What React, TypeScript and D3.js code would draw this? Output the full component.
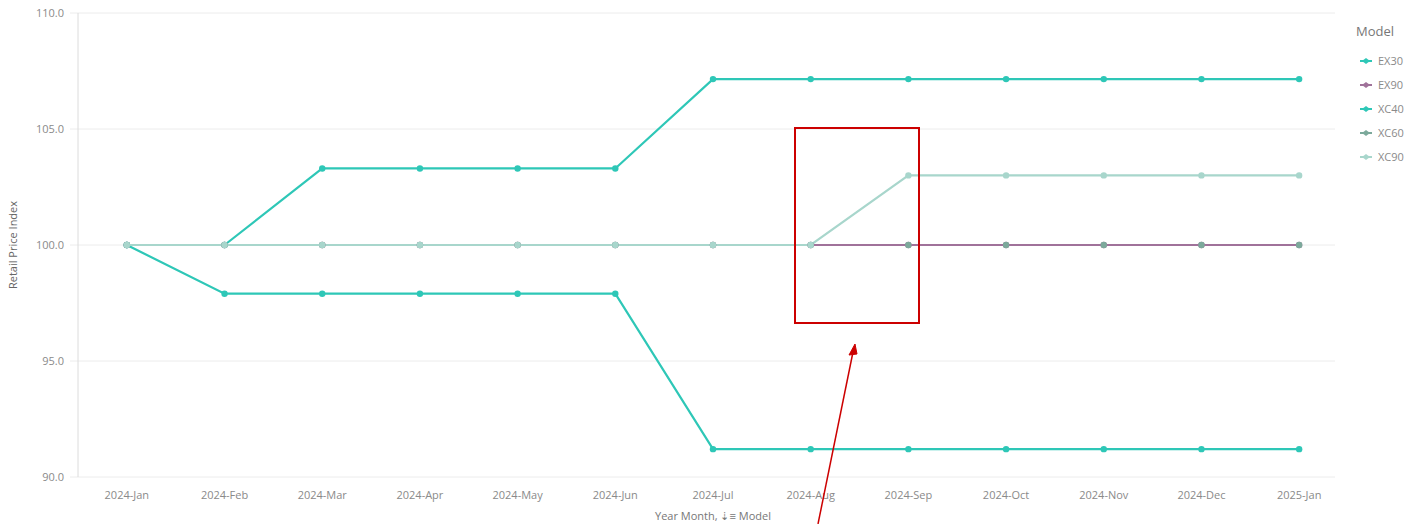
import React from 'react';
import * as d3 from 'd3';

const months = ['2024-Jan', '2024-Feb', '2024-Mar', '2024-Apr', '2024-May', '2024-Jun', '2024-Jul', '2024-Aug', '2024-Sep', '2024-Oct', '2024-Nov', '2024-Dec', '2025-Jan'];
const ex30 = [100, 100, 103.3, 103.3, 103.3, 103.3, 107.15, 107.15, 107.15, 107.15, 107.15, 107.15, 107.15];
const ex90 = [100, 100, 100, 100, 100, 100, 100, 100, 100, 100, 100, 100, 100];
const xc40 = [100, 97.9, 97.9, 97.9, 97.9, 97.9, 91.2, 91.2, 91.2, 91.2, 91.2, 91.2, 91.2];
const xc60 = [100, 100, 100, 100, 100, 100, 100, 100, 100, 100, 100, 100, 100];
const xc90 = [100, 100, 100, 100, 100, 100, 100, 100, 103.0, 103.0, 103.0, 103.0, 103.0];
const yTicks = [90, 95, 100, 105, 110];

const series = [
  { name: 'EX30', values: ex30, color: '#2ec7b7' },
  { name: 'EX90', values: ex90, color: '#a0729a' },
  { name: 'XC40', values: xc40, color: '#2ec7b7' },
  { name: 'XC60', values: xc60, color: '#7ca99b' },
  { name: 'XC90', values: xc90, color: '#a8d6cc' },
];
const lineOrder = ['EX30', 'XC40', 'XC60', 'EX90', 'XC90'];
const dotOrder = ['EX30', 'XC40', 'EX90', 'XC60', 'XC90'];

const font = 'Open Sans, sans-serif';

export default function App() {
  const left = 78, right = 1348, top = 13, bottom = 477;
  const x = d3.scaleBand<string>().domain(months).range([left, right]);
  const cx = (m: string) => (x(m) as number) + x.bandwidth() / 2;
  const y = d3.scaleLinear().domain([90, 110]).range([bottom, top]);
  const line = d3.line<number>().x((_, i) => cx(months[i])).y(d => y(d));
  const byName = (n: string) => series.find(s => s.name === n)!;

  return (
    <svg width={1421} height={524} style={{ position: 'absolute', left: 0, top: 0, background: '#fff' }} fontFamily={font}>
      {/* grid */}
      {yTicks.map(t => (
        <g key={t}>
          <line x1={70} x2={1335} y1={y(t)} y2={y(t)} stroke="#ececec" strokeWidth={1} />
          <text x={64} y={y(t) + 4} textAnchor="end" fontSize={11} fill="#8a8a8a">{t.toFixed(1)}</text>
        </g>
      ))}
      <line x1={left} x2={left} y1={top} y2={bottom} stroke="#dcdcdc" />
      <text transform={`translate(17,${(top + bottom) / 2}) rotate(-90)`} textAnchor="middle" fontSize={11} fill="#666">Retail Price Index</text>
      {months.map(m => (
        <text key={m} x={cx(m)} y={499} textAnchor="middle" fontSize={11} fill="#8a8a8a">{m}</text>
      ))}
      <text x={713} y={520} textAnchor="middle" fontSize={11} fill="#777">Year Month, ⇣≡ Model</text>

      {lineOrder.map(n => {
        const s = byName(n);
        return <path key={n} d={line(s.values) as string} fill="none" stroke={s.color} strokeWidth={2.2} />;
      })}
      {dotOrder.map(n => {
        const s = byName(n);
        return (
          <g key={n}>
            {s.values.map((v, i) => (
              <circle key={i} cx={cx(months[i])} cy={y(v)} r={3.2} fill={s.color} />
            ))}
          </g>
        );
      })}

      {/* legend */}
      <text x={1356} y={36} fontSize={13} fill="#777">Model</text>
      {series.map((s, i) => (
        <g key={s.name} transform={`translate(1366,${61 + i * 24})`}>
          <line x1={-6} x2={6} y1={0} y2={0} stroke={s.color} strokeWidth={2} />
          <path d="M-4,0 L0,-3 L4,0 L0,3 Z" fill={s.color} />
          <text x={12} y={4} fontSize={11} fill="#8a8a8a">{s.name}</text>
        </g>
      ))}

      {/* annotation */}
      <rect x={795} y={128} width={124} height={195} fill="none" stroke="#cc0000" strokeWidth={2} />
      <line x1={818} y1={524} x2={853} y2={352} stroke="#cc0000" strokeWidth={1.5} />
      <path d="M855,344 L849,355 L857,354 Z" fill="#cc0000" stroke="#cc0000" />
    </svg>
  );
}
